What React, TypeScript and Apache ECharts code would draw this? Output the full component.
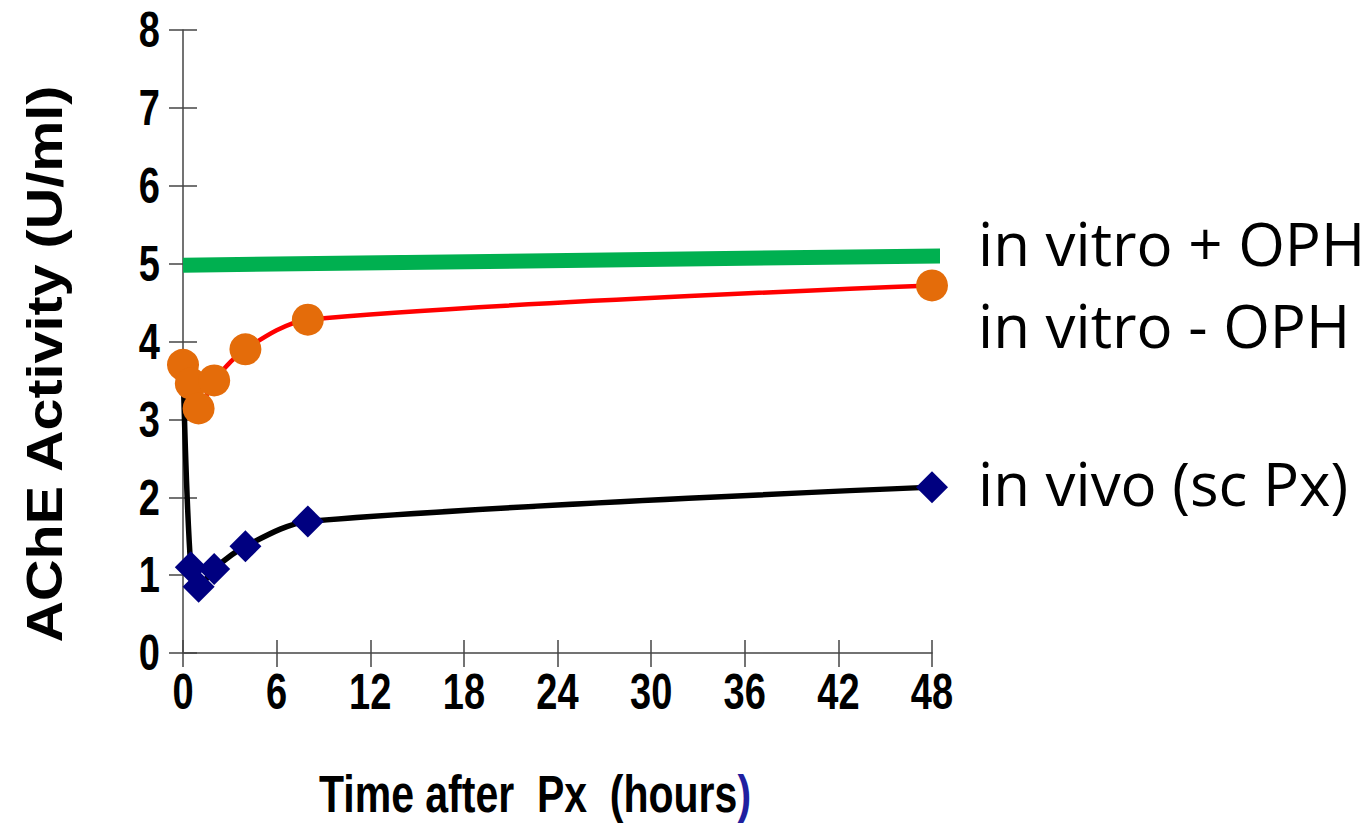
import React, { useEffect, useRef } from "react";
import * as echarts from "echarts";

const xTicks = [0, 6, 12, 18, 24, 30, 36, 42, 48];
const yTicks = [0, 1, 2, 3, 4, 5, 6, 7, 8];
const timeHours = [0, 0.5, 1, 2, 4, 8, 48];
const inVitroMinusOPH = [3.7, 3.46, 3.14, 3.5, 3.9, 4.28, 4.72];
const inVivo = [3.7, 1.1, 0.85, 1.08, 1.37, 1.69, 2.13];
const inVitroPlusOPH: [number, number][] = [
  [0, 4.98],
  [49.1, 5.1],
];
const seriesNames = ["in vitro + OPH", "in vitro - OPH", "in vivo (sc Px)"];
const xTitle = "Time after  Px  (hours";
const yTitle = "AChE Activity (U/ml)";

const pair = (ys: number[]) => timeHours.map((t, i) => [t, ys[i]]);

export default function App() {
  const ref = useRef<HTMLDivElement>(null);
  useEffect(() => {
    if (!ref.current) return;
    const chart = echarts.init(ref.current, null, { renderer: "svg" });
    const axisFont = "'Liberation Sans', Arial, sans-serif";
    const legendFont = "'Open Sans', sans-serif";
    const baseX = {
      type: "value" as const,
      min: 0,
      max: 48,
      interval: 6,
      position: "bottom" as const,
      splitLine: { show: false },
      axisLabel: { show: false },
    };
    const baseY = {
      type: "value" as const,
      min: 0,
      max: 8,
      interval: 1,
      position: "left" as const,
      splitLine: { show: false },
      axisLabel: { show: false },
    };
    const legendText = (text: string, y: number) => ({
      type: "text",
      x: 978,
      y,
      style: {
        text,
        fontFamily: legendFont,
        fontSize: 60,
        fill: "#000",
        verticalAlign: "middle",
      },
    });
    const titles = [
      legendText(seriesNames[0], 243),
      legendText(seriesNames[1], 325),
      legendText(seriesNames[2], 483),
      {
        type: "text",
        x: 535,
        y: 794,
        scaleY: 1.25,
        style: {
          text: "{a|" + xTitle + "}{b|)}",
          align: "center",
          verticalAlign: "middle",
          rich: {
            a: { fontFamily: axisFont, fontWeight: "bold", fontSize: 41, fill: "#000" },
            b: { fontFamily: axisFont, fontWeight: "bold", fontSize: 41, fill: "#1F1FA0" },
          },
        },
      },
      {
        type: "text",
        x: 44,
        y: 364,
        rotation: Math.PI / 2,
        scaleX: 1.15,
        style: {
          text: yTitle,
          fontFamily: axisFont,
          fontWeight: "bold",
          fontSize: 50,
          fill: "#000",
          align: "center",
          verticalAlign: "middle",
        },
      },
    ];
    chart.setOption({
      animation: false,
      backgroundColor: "#ffffff",
      grid: { left: 183, right: 433, top: 30, bottom: 170, containLabel: false },
      xAxis: [
        {
          ...baseX,
          axisLine: { show: true, lineStyle: { color: "#444", width: 1.5 } },
          axisTick: { show: true, length: 14, lineStyle: { color: "#444", width: 1.5 } },
        },
        {
          ...baseX,
          axisLine: { show: false },
          axisTick: { show: true, inside: true, length: 13, lineStyle: { color: "#444", width: 1.5 } },
        },
      ],
      yAxis: [
        {
          ...baseY,
          axisLine: { show: true, lineStyle: { color: "#444", width: 1.5 } },
          axisTick: { show: true, length: 14, lineStyle: { color: "#444", width: 1.5 } },
        },
        {
          ...baseY,
          axisLine: { show: false },
          axisTick: { show: true, inside: true, length: 14, lineStyle: { color: "#444", width: 1.5 } },
        },
      ],
      series: [
        {
          name: seriesNames[0],
          type: "line",
          data: inVitroPlusOPH,
          clip: false,
          showSymbol: false,
          symbol: "none",
          lineStyle: { color: "#00B050", width: 15, cap: "butt" },
          z: 2,
        },
        {
          name: seriesNames[2],
          type: "line",
          data: pair(inVivo),
          smooth: 0.3,
          symbol: "diamond",
          symbolSize: 32,
          itemStyle: { color: "#000080" },
          lineStyle: { color: "#000000", width: 5.5 },
          z: 3,
        },
        {
          name: seriesNames[1],
          type: "line",
          data: pair(inVitroMinusOPH),
          smooth: 0.3,
          symbol: "circle",
          symbolSize: 32,
          itemStyle: { color: "#E46C0A" },
          lineStyle: { color: "#FF0000", width: 4.5 },
          z: 4,
        },
      ],
      graphic: titles,
    });

    // Tick labels placed through the chart's own scales (stretched vertically like the original)
    const tickStyle = {
      fontFamily: axisFont,
      fontWeight: "bold",
      fontSize: 38,
      fill: "#000",
      verticalAlign: "middle",
    };
    const tickLabels: any[] = [];
    xTicks.forEach((v) => {
      const p = chart.convertToPixel({ gridIndex: 0 }, [v, 0]) as number[];
      tickLabels.push({
        type: "text",
        x: p[0],
        y: p[1] + 39,
        scaleY: 1.3,
        style: { ...tickStyle, text: String(v), align: "center" },
      });
    });
    yTicks.forEach((v) => {
      const p = chart.convertToPixel({ gridIndex: 0 }, [0, v]) as number[];
      tickLabels.push({
        type: "text",
        x: p[0] - 23,
        y: p[1],
        scaleY: 1.3,
        style: { ...tickStyle, text: String(v), align: "right" },
      });
    });
    chart.setOption({ graphic: [...titles, ...tickLabels] });
    return () => chart.dispose();
  }, []);
  return (
    <div
      ref={ref}
      style={{ position: "fixed", left: 0, top: 0, width: 1365, height: 823, background: "#fff" }}
    />
  );
}
